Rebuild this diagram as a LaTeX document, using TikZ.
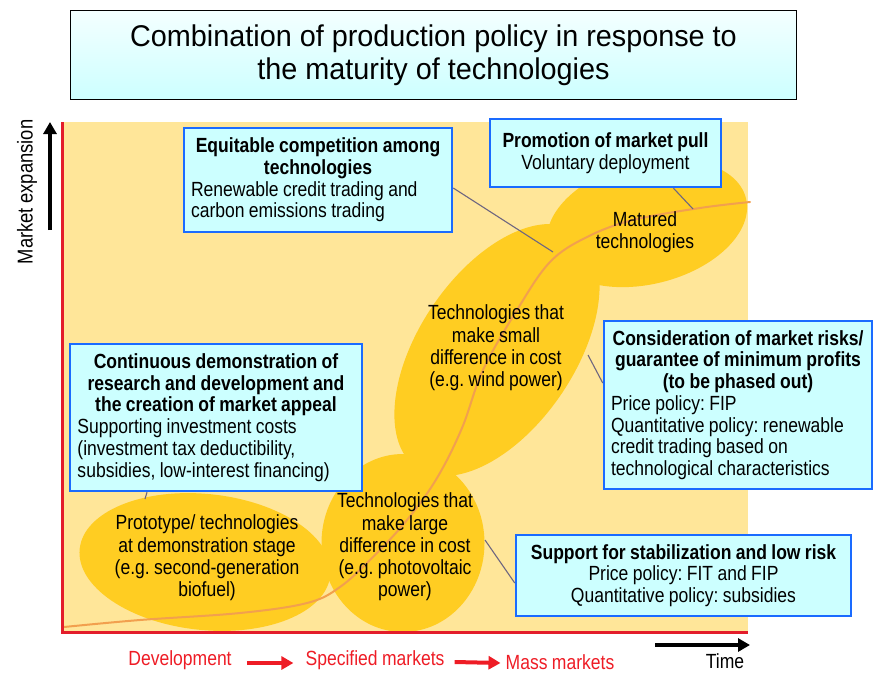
\documentclass[tikz,border=0pt]{standalone}
\usepackage{fontspec}
\setmainfont[FakeStretch=0.855,WordSpace=0.9]{Liberation Sans}
\newfontfamily\titlefont[FakeStretch=0.96]{Liberation Sans}
\usetikzlibrary{shapes.geometric,arrows.meta}
\definecolor{bgyellow}{HTML}{FFE699}
\definecolor{gold}{HTML}{FFCD22}
\definecolor{axisred}{HTML}{E31D2B}
\definecolor{boxfill}{HTML}{CCFFFF}
\definecolor{titletop}{HTML}{F4FFFF}
\definecolor{boxline}{HTML}{1A6BFF}
\definecolor{curveor}{HTML}{F2A04E}
\definecolor{conn}{HTML}{6E6680}
\definecolor{labred}{HTML}{EE1C25}
\frenchspacing
\newcommand\boldmid[2]{\makebox[#1][c]{\bfseries #2}}
\newcommand\plainleft[2]{\makebox[#1][l]{#2}}
\begin{document}
\begin{tikzpicture}[x=1pt,y=-1pt,
  policy/.style={draw=boxline, fill=boxfill, line width=2.5pt, inner ysep=0pt,
    font=\fontsize{20.5}{21.7}\selectfont},
  blob/.style={ellipse, fill=gold, inner sep=0pt},
  blobtext/.style={align=center, inner sep=0pt, font=\fontsize{20.5}{22.3}\selectfont},
  link/.style={draw=conn, line width=1.1pt},
  steparrow/.style={line width=4pt, -{Triangle[length=12pt,width=13pt]}},
  marklabel/.style={text=labred, inner sep=0pt, font=\fontsize{20.5}{22}\selectfont}]
\useasboundingbox (0,0) rectangle (875,672);

% title
\node[draw=black, line width=1.8pt, top color=titletop, bottom color=boxfill,
  minimum width=726pt, minimum height=89pt, align=center,
  font=\titlefont\fontsize{30}{33}\selectfont] (title) at (433.5,55)
  {Combination of production policy in response to\\the maturity of technologies};

% chart area
\fill[bgyellow] (62,122) rectangle (748,632);

% technology ellipses
\node[blob, minimum width=252pt, minimum height=136pt, rotate=-6] (e1) at (205,562) {};
\node[blob, minimum width=163pt, minimum height=178pt] (e2) at (403,543) {};
\node[blob, minimum width=285pt, minimum height=156pt, rotate=56] (e3) at (497,350) {};
\node[blob, minimum width=204pt, minimum height=122pt, rotate=14] (e4) at (647,223) {};

% S-curve
\draw[curveor, line width=2pt, line cap=round] plot[smooth, tension=0.6] coordinates
  {(64,627) (140,620) (240,613) (307,603) (340,587) (373,557) (407,520) (437,478)
   (462,428) (483,370) (517,310) (550,262) (587,237) (633,220) (700,208) (750,202)};

% axes
\draw[axisred, line width=3pt] (62,122) -- (62,632) -- (748,632);

% ellipse labels
\node[blobtext] (t1) at (207,558) {Prototype/ technologies\\at demonstration stage\\(e.g. second-generation\\biofuel)};
\node[blobtext] (t2) at (405,547) {Technologies that\\make large\\difference in cost\\(e.g. photovoltaic\\power)};
\node[blobtext] (t3) at (496,348) {Technologies that\\make small\\difference in cost\\(e.g. wind power)};
\node[blobtext] (t4) at (645,232) {Matured\\technologies};

% policy boxes
\node[policy, minimum width=268pt, minimum height=104pt, inner xsep=0pt, align=center] (A) at (318,180)
  {\boldmid{254pt}{Equitable competition among}\\\boldmid{254pt}{technologies}\\\plainleft{254pt}{Renewable credit trading and}\\\plainleft{254pt}{carbon emissions trading}};
\node[policy, minimum width=231pt, minimum height=68pt, align=center] (B) at (605.5,153)
  {\bfseries Promotion of market pull\\Voluntary deployment};
\node[policy, minimum width=292pt, minimum height=147pt, inner xsep=0pt, align=center] (C) at (216,417.5)
  {\boldmid{277pt}{Continuous demonstration of}\\\boldmid{277pt}{research and development and}\\\boldmid{277pt}{the creation of market appeal}\\\plainleft{277pt}{Supporting investment costs}\\\plainleft{277pt}{(investment tax deductibility,}\\\plainleft{277pt}{subsidies, low-interest financing)}};
\node[policy, minimum width=268pt, minimum height=168pt, inner xsep=0pt, align=center] (D) at (738,405)
  {\boldmid{254pt}{Consideration of market risks/}\\\boldmid{254pt}{guarantee of minimum profits}\\\boldmid{254pt}{(to be phased out)}\\\plainleft{254pt}{Price policy: FIP}\\\plainleft{254pt}{Quantitative policy: renewable}\\\plainleft{254pt}{credit trading based on}\\\plainleft{254pt}{technological characteristics}};
\node[policy, minimum width=335pt, minimum height=81pt, align=center] (E) at (683.5,575.5)
  {{\bfseries Support for stabilization and low risk}\\Price policy: FIT and FIP\\Quantitative policy: subsidies};

% connectors
\coordinate (ca) at (553,252);
\coordinate (cb) at (693,209);
\coordinate (cc) at (145,499);
\coordinate (cd) at (588,355);
\coordinate (ce) at (485,540);
\draw[link] ([yshift=-8pt]A.east) -- (ca);
\draw[link] ([xshift=68pt]B.south) -- (cb);
\draw[link] ([xshift=-69pt]C.south) -- (cc);
\draw[link] ([yshift=22pt]D.west) -- (cd);
\draw[link] ([yshift=-7.5pt]E.west) -- (ce);

% vertical axis label
\node[rotate=90, inner sep=0pt, font=\fontsize{21.5}{22}\selectfont] (mx) at (27,192) {Market expansion};
\coordinate (mxa) at (50,230);
\coordinate (mxb) at (50,122);
\draw[steparrow, line width=3.5pt] (mxa) -- (mxb);

% time axis
\node[inner sep=0pt, font=\fontsize{20.5}{22}\selectfont] (time) at (725,661) {Time};
\coordinate (tma) at (655,645);
\coordinate (tmb) at (750,645);
\draw[steparrow, line width=3.5pt] (tma) -- (tmb);

% market stages
\node[marklabel] (dev) at (180,660) {Development};
\node[marklabel] (spec) at (375,660) {Specified markets};
\node[marklabel] (mass) at (560,662) {Mass markets};
\draw[steparrow, labred] ([xshift=15pt,yshift=-3pt]dev.east) -- ([xshift=-12pt,yshift=-3pt]spec.west);
\draw[steparrow, labred] ([xshift=10pt,yshift=-2pt]spec.east) -- ([xshift=-5pt,yshift=-1pt]mass.west);
\end{tikzpicture}
\end{document}
